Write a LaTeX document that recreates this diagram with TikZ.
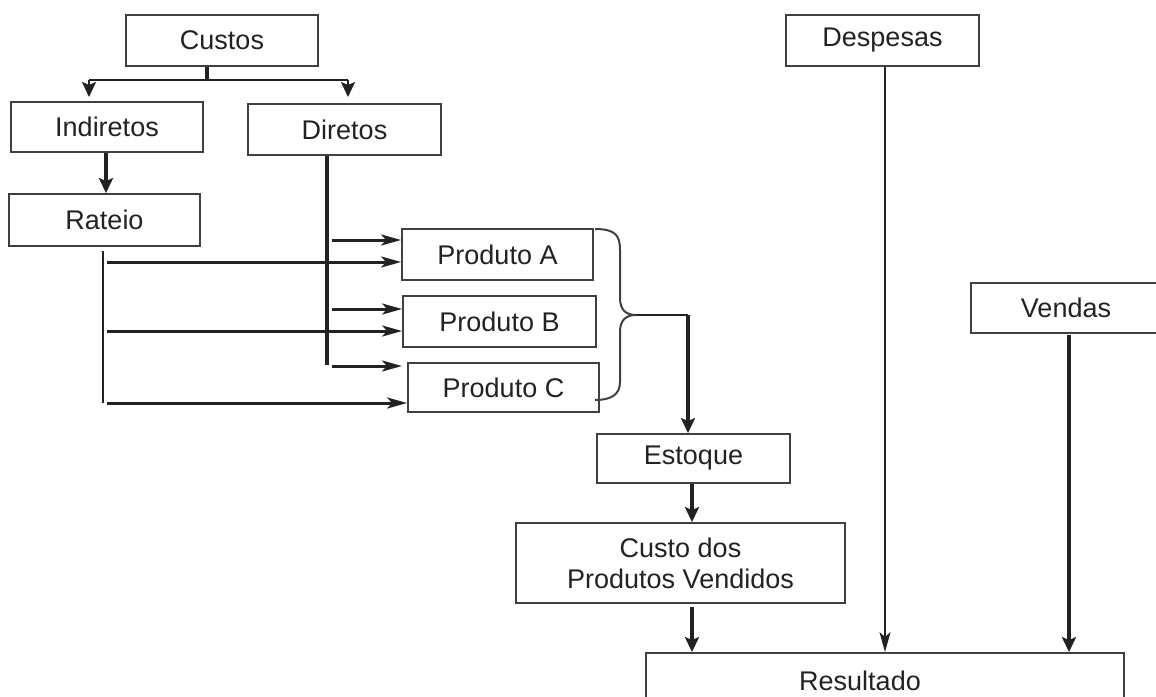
\documentclass[tikz,border=0pt]{standalone}
\usepackage{fontspec}
\setmainfont{Liberation Sans}
\usetikzlibrary{arrows.meta, decorations.pathreplacing, positioning}
\definecolor{boxline}{HTML}{404040}
\definecolor{ink}{HTML}{222222}
\tikzstyle{box}=[rectangle, draw=boxline, line width=1.8pt, inner sep=0pt, minimum height=50pt, font=\fontsize{27}{31}\selectfont, text=ink]
\tikzstyle{arr}=[-{Stealth[length=15pt,width=14pt,inset=3pt]}]
\tikzstyle{larr}=[-{Stealth[length=20pt,width=11pt,inset=5pt]}]
\begin{document}
\begin{tikzpicture}[x=1pt, y=-1pt, draw=ink, line width=2pt]
\useasboundingbox (0,0) rectangle (1156,696);
\node [box, minimum width=192pt, minimum height=51pt] (custos) at (222,40.5) {Custos};
\node [box, minimum width=192pt] (indir) at (107,127) {Indiretos};
\node [box, minimum width=193pt, minimum height=51pt] (dir) at (344.5,129.5) {Diretos};
\node [box, minimum width=191pt, minimum height=52pt] (rat) at (104.5,220) {Rateio};
\node [box, minimum width=191pt, minimum height=51pt] (pa) at (497.5,254.5) {Produto A};
\node [box, minimum width=193pt, minimum height=51pt] (pb) at (499.5,321.5) {Produto B};
\node [box, minimum width=191pt, minimum height=49pt] (pc) at (503.5,387.5) {Produto C};
\node [box, minimum width=193pt, minimum height=49pt] (est) at (693.5,458.5) {Estoque};
\node [box, minimum width=329pt, minimum height=80pt, align=center] (cpv) at (680.5,563) {Custo dos\\Produtos Vendidos};
\node [box, minimum width=193pt, minimum height=51pt] (desp) at (882.5,40.5) {Despesas};
\node [box, minimum width=190pt, minimum height=50pt] (vend) at (1066,308) {Vendas};
\node [box, minimum width=478pt, minimum height=56pt] (res) at (885,681) {\hspace*{-50pt}Resultado};
\coordinate (c1) at (207,80); \coordinate (c2) at (89,80); \coordinate (c3) at (348,80);
\coordinate (r1) at (103,251); \coordinate (r2) at (103,403);
\coordinate (d1) at (327,365);
\coordinate (b1) at (595,229); \coordinate (b2) at (595,400);
\coordinate (tip) at (636,315); \coordinate (k) at (688,315);
\draw [line width=3.5pt] (custos.south -| c1) -- (c1);
\draw (c2) -- (c3);
\draw [arr] (c2) -- (89,97); \draw [arr] (c3) -- (348,97);
\draw [arr, line width=4pt] (indir.south -| 106,0) -- (rat.north -| 106,0);
\draw (r1) -- (r2);
\draw [line width=3.5pt] (dir.south -| d1) -- (d1);
\draw [larr, line width=3pt] (107,262) -- (pa.west |- 0,262);
\draw [larr, line width=3pt] (107,331) -- (pb.west |- 0,331);
\draw [larr, line width=3pt] (107,403) -- (pc.west |- 0,403);
\draw [larr, line width=3pt] (332,240) -- (pa.west |- 0,240);
\draw [larr, line width=3pt] (332,309) -- (pb.west |- 0,309);
\draw [larr, line width=3pt] (332,366) -- (402,366);
\draw [draw=boxline] (b1) .. controls (616,229) and (620,236) .. (620,250) -- (620,298)
  .. controls (620,310) and (626,315) .. (tip) .. controls (626,315) and (620,320) .. (620,332)
  -- (620,382) .. controls (620,394) and (612,400) .. (b2);
\draw (tip) -- (k);
\draw [arr, line width=4pt] (k) -- (k |- est.north);
\draw [arr, line width=4pt] (est.south -| 692,0) -- (cpv.north -| 692,0);
\draw [arr, line width=4pt] (692,607) -- (res.north -| 692,0);
\draw [larr] (desp.south -| 885,0) -- (res.north -| 885,0);
\draw [arr, line width=4.5pt] (1069,335) -- (res.north -| 1069,0);
\end{tikzpicture}
\end{document}
